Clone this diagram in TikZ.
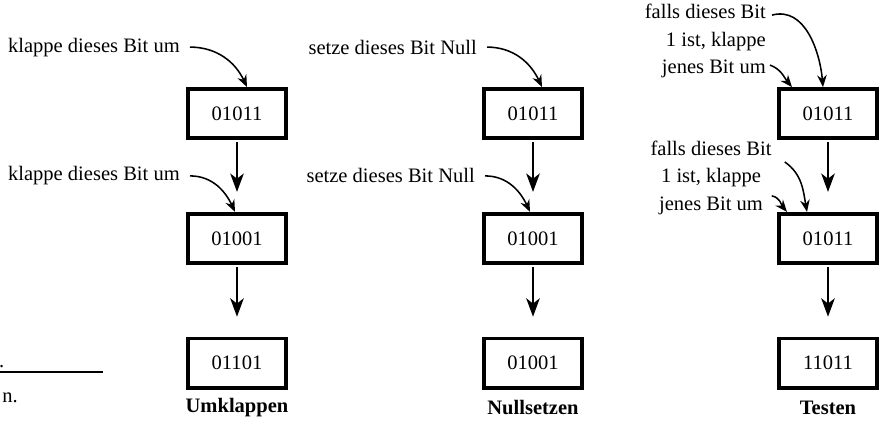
\documentclass[tikz,border=0pt]{standalone}
\usepackage{fontspec}
\setmainfont{Liberation Serif}
\usetikzlibrary{arrows.meta}
\tikzstyle{zustand}=[draw, line width=2.7pt, minimum width=2.45cm,
  minimum height=1.23cm, inner sep=0pt]
\tikzstyle{hinweis}=[inner sep=0pt, align=right]
\tikzstyle{titel}=[font=\fontsize{14.6}{19.5}\selectfont\bfseries]
\tikzstyle{line}=[draw, line width=1.1pt, shorten <=0.05cm, shorten >=0.5cm,
  -{Stealth[length=0.46cm, width=0.34cm, inset=0.13cm]}]
\tikzstyle{bogen}=[draw, line width=1.1pt, -{Stealth[length=0.3cm, width=0.24cm]}]
\newcommand{\bitzustand}[2]{node (#1) [zustand] {#2}}

\begin{document}
\begin{tikzpicture}[font=\fontsize{14.6}{19.5}\selectfont]
  \useasboundingbox (0,0) rectangle (22,10.6);

  % Draw diagram elements
  % Umklappen
  \path (5.925,7.76) \bitzustand{UMA}{01011};
  \path (UMA)+(0,-3.12) \bitzustand{UMB}{01001};
  \path (UMB)+(0,-3.12) \bitzustand{UMC}{01101};
  \path (UMC.south)+(0,-0.45) node (UMT) [titel] {Umklappen};
  \path (UMA.north)+(-1.425,1.0) node (UMAL) [hinweis, anchor=east] {klappe dieses Bit um};
  \path (UMB.north)+(-1.425,0.9) node (UMBL) [hinweis, anchor=east] {klappe dieses Bit um};

  % Nullsetzen
  \path (13.325,7.76) \bitzustand{NSA}{01011};
  \path (NSA)+(0,-3.12) \bitzustand{NSB}{01001};
  \path (NSB)+(0,-3.12) \bitzustand{NSC}{01001};
  \path (NSC.south)+(0,-0.45) node (NST) [titel] {Nullsetzen};
  \path (NSA.north)+(-1.4,1.0) node (NSAL) [hinweis, anchor=east] {setze dieses Bit Null};
  \path (NSB.north)+(-1.45,0.9) node (NSBL) [hinweis, anchor=east] {setze dieses Bit Null};

  % Testen
  \path (20.7,7.76) \bitzustand{TEA}{01011};
  \path (TEA)+(0,-3.12) \bitzustand{TEB}{01011};
  \path (TEB)+(0,-3.12) \bitzustand{TEC}{11011};
  \path (TEC.south)+(0,-0.45) node (TET) [titel] {Testen};
  \path (TEA.north)+(-1.55,1.15) node (TEAL) [hinweis, anchor=east]
    {falls dieses Bit\\1 ist, klappe\\jenes Bit um};
  \path (TEB.north)+(-2.925,0.85) node (TEBL) [hinweis, align=center]
    {falls dieses Bit\\1 ist, klappe\\jenes Bit um};

  % Draw arrows between elements
  \path [line] (UMA) -- (UMB);
  \path [line] (UMB) -- (UMC);
  \path [line] (NSA) -- (NSB);
  \path [line] (NSB) -- (NSC);
  \path [line] (TEA) -- (TEB);
  \path [line] (TEB) -- (TEC);

  \path [bogen] ([xshift=0.25cm]UMAL.east) to[out=0, in=115] ([xshift=0.25cm]UMA.north);
  \path [bogen] ([xshift=0.25cm]UMBL.east) to[out=0, in=115] ([xshift=-0.05cm]UMB.north);
  \path [bogen] ([xshift=0.25cm]NSAL.east) to[out=0, in=115] ([xshift=0.225cm]NSA.north);
  \path [bogen] ([xshift=0.25cm]NSBL.east) to[out=0, in=115] ([xshift=-0.075cm]NSB.north);
  \path [bogen] ([xshift=0.15cm,yshift=0.65cm]TEAL.east) to[out=15, in=95] ([xshift=-0.125cm]TEA.north);
  \path [bogen] ([xshift=0.1cm,yshift=-0.6cm]TEAL.east) to[out=-20, in=130] ([xshift=-0.9cm]TEA.north);
  \path [bogen] ([xshift=0.325cm,yshift=0.4cm]TEBL.east) to[out=-35, in=100] ([xshift=-0.525cm]TEB.north);
  \path [bogen] ([yshift=-0.45cm]TEBL.east) to[out=-10, in=130] ([xshift=-1.025cm]TEB.north);

  % page remnants
  \draw [line width=2pt] (0,1.3) -- (2.58,1.3);
  \path (0.05,0.65) node (REST) [hinweis, anchor=west] {n.};
  \path (-0.03,1.42) node (PUNKT) [hinweis, anchor=base west] {.};
\end{tikzpicture}
\end{document}
